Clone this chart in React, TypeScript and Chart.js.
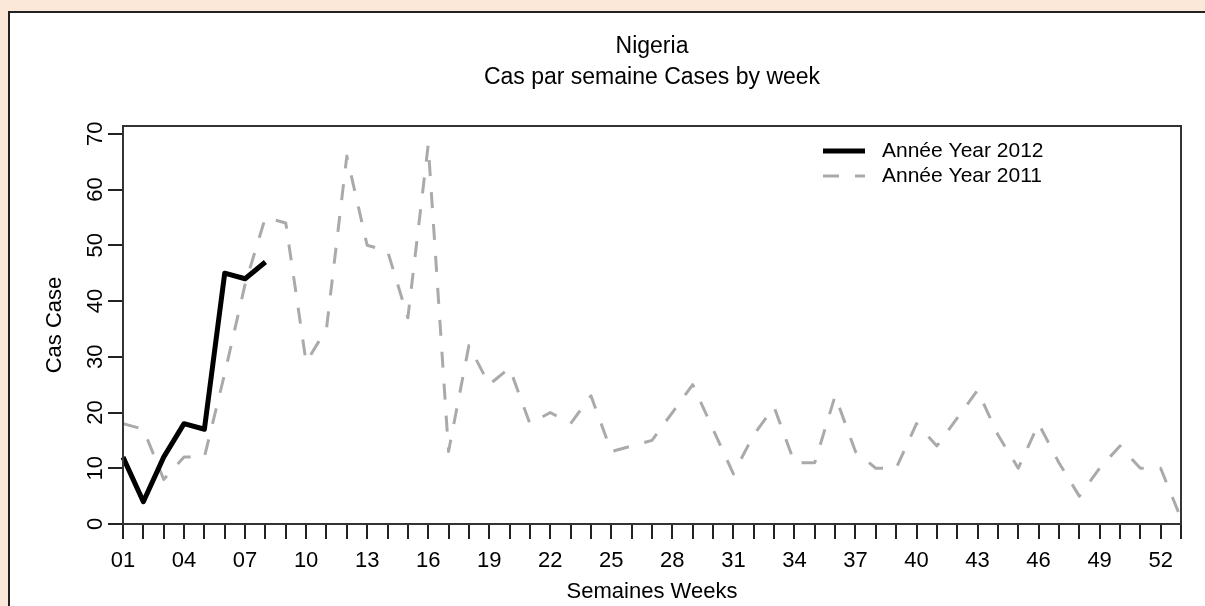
import React, { useEffect, useRef } from "react";
import { Chart, registerables } from "chart.js";

Chart.register(...registerables);

const weekLabels = [
  "01", "02", "03", "04", "05", "06", "07", "08", "09", "10",
  "11", "12", "13", "14", "15", "16", "17", "18", "19", "20",
  "21", "22", "23", "24", "25", "26", "27", "28", "29", "30",
  "31", "32", "33", "34", "35", "36", "37", "38", "39", "40",
  "41", "42", "43", "44", "45", "46", "47", "48", "49", "50",
  "51", "52", "53",
];
const xTickLabels = [
  "01", "04", "07", "10", "13", "16", "19", "22", "25",
  "28", "31", "34", "37", "40", "43", "46", "49", "52",
];
const yTickValues = [0, 10, 20, 30, 40, 50, 60, 70];

const cases2012 = [12, 4, 12, 18, 17, 45, 44, 47];
const cases2011 = [
  18, 17, 8, 12, 12, 27, 43, 55, 54, 29,
  35, 66, 50, 49, 37, 68, 13, 32, 25, 28,
  18, 20, 18, 23, 13, 14, 15, 20, 25, 17,
  9, 16, 21, 11, 11, 23, 13, 10, 10, 18,
  14, 19, 24, 16, 10, 18, 11, 5, 10, 14,
  10, 10, 1,
];

const seriesLabels = ["Année Year 2012", "Année Year 2011"];
const titleText = "Nigeria";
const subtitleText = "Cas par semaine Cases by week";
const xTitleText = "Semaines Weeks";
const yTitleText = "Cas Case";

const FONT = '"Liberation Sans", Arial, sans-serif';

const boxPlugin = {
  id: "plotBox",
  afterDraw(chart: any) {
    const { ctx, chartArea } = chart;
    ctx.save();
    ctx.strokeStyle = "#333";
    ctx.lineWidth = 2;
    ctx.strokeRect(chartArea.left, chartArea.top, chartArea.right - chartArea.left, chartArea.bottom - chartArea.top);
    ctx.restore();
  },
};

const legendPlugin = {
  id: "innerLegend",
  afterDraw(chart: any) {
    const { ctx, chartArea } = chart;
    const x0 = chartArea.left + 700;
    const y0 = chartArea.top + 25;
    ctx.save();
    chart.data.datasets.forEach((ds: any, i: number) => {
      const y = y0 + i * 25;
      ctx.beginPath();
      ctx.setLineDash(ds.borderDash || []);
      ctx.strokeStyle = ds.borderColor;
      ctx.lineWidth = ds.borderWidth;
      ctx.lineCap = "butt";
      ctx.moveTo(x0, y);
      ctx.lineTo(x0 + 42, y);
      ctx.stroke();
      ctx.setLineDash([]);
      ctx.fillStyle = "#000";
      ctx.font = `21px ${FONT}`;
      ctx.textBaseline = "middle";
      ctx.textAlign = "left";
      ctx.fillText(ds.label, x0 + 59, y);
    });
    ctx.restore();
  },
};

export default function App() {
  const canvasRef = useRef<HTMLCanvasElement | null>(null);

  useEffect(() => {
    const canvas = canvasRef.current;
    if (!canvas) return;
    const chart = new Chart(canvas, {
      type: "line",
      data: {
        labels: weekLabels,
        datasets: [
          {
            label: seriesLabels[0],
            data: cases2012,
            borderColor: "#000000",
            borderWidth: 5,
            pointRadius: 0,
            tension: 0,
            fill: false,
            borderJoinStyle: "round",
          },
          {
            label: seriesLabels[1],
            data: cases2011,
            borderColor: "#aaaaaa",
            borderWidth: 3,
            borderDash: [16, 16],
            pointRadius: 0,
            tension: 0,
            fill: false,
            borderJoinStyle: "round",
          },
        ],
      },
      options: {
        animation: false,
        responsive: false,
        devicePixelRatio: 1,
        layout: { padding: { left: 30, right: 24, top: 0, bottom: 0 } },
        plugins: {
          legend: { display: false },
          tooltip: { enabled: false },
          title: {
            display: true,
            text: titleText,
            fullSize: false,
            color: "#000",
            font: { family: FONT, size: 23, weight: "normal", lineHeight: 1.2 },
            padding: { top: 33, bottom: 0 },
          },
          subtitle: {
            display: true,
            text: subtitleText,
            fullSize: false,
            color: "#000",
            font: { family: FONT, size: 23, weight: "normal", lineHeight: 1.2 },
            padding: { top: 3.6, bottom: 34.2 },
          },
        },
        scales: {
          x: {
            type: "category",
            offset: false,
            border: { display: true, color: "#333", width: 2 },
            grid: {
              display: true,
              drawOnChartArea: false,
              drawTicks: true,
              tickLength: 15,
              color: "#222",
              lineWidth: 2,
              offset: false,
            },
            ticks: {
              autoSkip: false,
              maxRotation: 0,
              minRotation: 0,
              padding: 8.8,
              color: "#000",
              font: { family: FONT, size: 22 },
              callback: (_v: any, i: number) => (xTickLabels.includes(weekLabels[i]) ? weekLabels[i] : ""),
            },
            title: {
              display: true,
              text: xTitleText,
              color: "#000",
              font: { family: FONT, size: 22, lineHeight: 1.2 },
              padding: { top: 0, bottom: 1 },
            },
            afterFit: (s: any) => {
              s.height = 82;
            },
          },
          y: {
            min: 0,
            max: 71.4,
            border: { display: true, color: "#333", width: 2 },
            grid: {
              display: true,
              drawOnChartArea: false,
              drawTicks: true,
              tickLength: 15,
              color: "#222",
              lineWidth: 2,
            },
            afterBuildTicks: (s: any) => {
              s.ticks = yTickValues.map((v) => ({ value: v }));
            },
            ticks: {
              minRotation: 90,
              maxRotation: 90,
              crossAlign: "center",
              padding: 0,
              color: "#000",
              font: { family: FONT, size: 22 },
            },
            title: {
              display: true,
              text: yTitleText,
              color: "#000",
              font: { family: FONT, size: 22, lineHeight: 1.2 },
              padding: { top: 12, bottom: 0 },
            },
            afterFit: (s: any) => {
              s.width = 93;
            },
          },
        },
      },
      plugins: [boxPlugin, legendPlugin],
    });
    return () => chart.destroy();
  }, []);

  return (
    <div
      style={{
        position: "fixed",
        left: 0,
        top: 0,
        width: 1205,
        height: 606,
        overflow: "hidden",
        background: "#FCE8D8",
      }}
    >
      <div
        style={{
          position: "absolute",
          left: 8,
          top: 11,
          width: 1300,
          height: 700,
          background: "#ffffff",
          borderLeft: "2px solid #222",
          borderTop: "2px solid #222",
        }}
      />
      <canvas
        ref={canvasRef}
        width={1205}
        height={606}
        style={{ position: "absolute", left: 0, top: 0, width: 1205, height: 606 }}
      />
    </div>
  );
}
